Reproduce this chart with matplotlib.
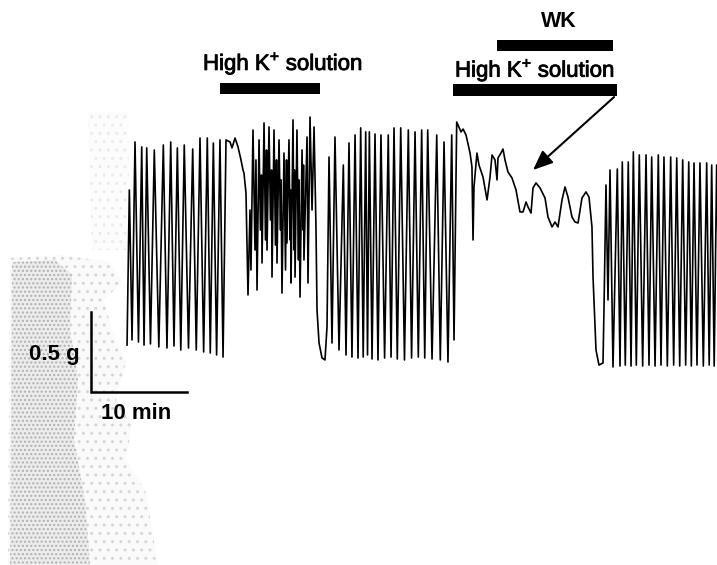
import numpy as np
import matplotlib
matplotlib.use("Agg")
import matplotlib.pyplot as plt
import matplotlib.patheffects as pe
from matplotlib.patches import Polygon

plt.rcParams["font.family"] = ["Liberation Sans", "DejaVu Sans"]
plt.rcParams["mathtext.fontset"] = "custom"
plt.rcParams["mathtext.rm"] = "Liberation Sans"

# ---- tension trace (time in min, force in g) ----
# spontaneous contractions before the first high K+ application
t_control = [-0.10, 0.14, 0.42, 0.73, 1.09, 1.43, 1.67, 1.95, 2.34, 2.74, 3.21, 3.68,
             4.06, 4.45, 4.79, 5.14, 5.50, 5.86, 6.30, 6.74, 7.11, 7.50, 7.88, 8.26,
             8.57, 8.89, 9.23, 9.58, 9.90, 10.21]
g_control = [0.156, 1.125, 0.188, 1.425, 0.175, 1.394, 0.156, 1.388, 0.163, 1.375, 0.144, 1.406,
             0.138, 1.425, 0.150, 1.388, 0.125, 1.406, 0.138, 1.381, 0.125, 1.450, 0.113, 1.450,
             0.106, 1.419, 0.094, 1.438, 0.081, 1.438]

# high K+ solution alone
t_highk = [10.63, 10.83, 11.15, 11.46, 11.77, 11.98, 12.08, 12.29,
           12.50, 12.71, 12.81, 13.02, 13.23, 13.33, 13.44, 13.65, 13.80, 13.91, 13.96, 14.17,
           14.32, 14.43, 14.48, 14.69, 14.84, 14.95, 15.00, 15.21, 15.36, 15.47, 15.52, 15.73,
           15.89, 15.94, 16.04, 16.25, 16.41, 16.51, 16.56, 16.77, 16.88, 16.93, 16.98, 17.19,
           17.29, 17.34, 17.40, 17.60, 17.76, 17.81, 17.92, 18.13, 18.23, 18.28, 18.33, 18.65,
           18.75, 18.96, 19.17, 19.38, 19.58, 19.69, 19.90, 20.21, 20.52, 20.73]
g_highk = [1.425, 1.388, 1.450, 1.394, 1.313, 1.250, 1.231, 1.106,
           0.469, 1.000, 0.625, 1.500, 0.750, 1.313, 0.500, 1.438, 0.875, 1.219, 0.669, 1.544,
           0.813, 1.375, 0.750, 1.519, 0.938, 1.250, 0.581, 1.500, 0.781, 1.313, 0.669, 1.438,
           0.875, 1.188, 0.481, 1.356, 0.625, 1.313, 0.794, 1.438, 0.813, 1.125, 0.544, 1.563,
           0.750, 1.250, 0.581, 1.500, 0.688, 1.188, 0.456, 1.375, 0.875, 1.281, 0.688, 1.456,
           0.544, 1.581, 1.000, 1.519, 0.894, 0.375, 0.169, 0.075, 0.063, 0.269]

# washout
t_wash = [20.94, 21.25, 21.56, 21.98, 22.43, 22.71, 23.02, 23.33, 23.65, 23.96, 24.24, 24.50,
          24.76, 24.95, 25.14, 25.42, 25.73, 26.04, 26.35, 26.73, 27.11, 27.40, 27.71, 28.05,
          28.41, 28.80, 29.20, 29.54, 29.90, 30.24, 30.59, 30.91, 31.22, 31.67, 32.16, 32.53,
          32.92, 33.33, 33.72, 33.96, 34.24]
g_wash = [1.331, 0.169, 1.456, 0.125, 1.281, 0.094, 1.419, 0.081, 1.469, 0.075, 1.513, 0.081,
          1.488, 0.094, 1.488, 0.069, 1.475, 0.063, 1.469, 0.075, 1.469, 0.081, 1.513, 0.069,
          1.513, 0.063, 1.500, 0.075, 1.488, 0.081, 1.500, 0.075, 1.500, 0.069, 1.469, 0.063,
          1.425, 0.050, 1.469, 0.188, 1.550]

# high K+ solution + WK
t_wk = [34.69, 34.90, 35.21, 35.63, 35.83, 35.94, 36.04, 36.35, 36.56, 36.98, 37.40, 37.71,
        37.92, 38.23, 38.44, 38.54, 38.85, 39.06, 39.27, 39.58, 40.00, 40.42, 40.83, 41.15,
        41.46, 41.67, 41.98, 42.19, 42.50, 42.92, 43.44, 43.75, 44.17, 44.48, 44.79, 45.21,
        45.52, 45.83, 46.25, 46.56, 46.88, 47.29, 47.71, 48.02, 48.33, 48.44, 48.75, 49.06,
        49.48, 49.58]
g_wk = [1.488, 1.506, 1.469, 1.356, 1.269, 0.813, 1.144, 1.356, 1.281, 1.206, 1.063, 1.206,
        1.344, 1.313, 1.188, 1.325, 1.356, 1.381, 1.313, 1.238, 1.200, 1.125, 0.988, 0.988,
        1.050, 1.019, 0.981, 1.138, 1.169, 1.138, 1.075, 0.956, 0.894, 0.925, 0.894, 1.063,
        1.144, 1.081, 0.956, 0.925, 0.919, 1.075, 1.113, 1.081, 0.894, 0.581, 0.125, 0.031,
        0.044, 0.375]

# recovery after washout
t_recovery = [49.79, 50.00, 50.21, 50.52, 50.97, 51.25, 51.49, 51.80, 52.11, 52.40, 52.64, 52.95,
              53.26, 53.61, 53.96, 54.27, 54.55, 54.90, 55.24, 55.52, 55.83, 56.18, 56.53, 56.84,
              57.16, 57.47, 57.78, 58.09, 58.41, 58.68, 58.96, 59.27, 59.58, 59.93, 60.28, 60.54,
              60.80, 61.06, 61.32, 61.67]
g_recovery = [1.156, 0.438, 1.250, 0.019, 1.256, 0.025, 1.300, 0.031, 1.300, 0.025, 1.363, 0.031,
              1.344, 0.025, 1.344, 0.031, 1.331, 0.025, 1.344, 0.031, 1.331, 0.025, 1.331, 0.031,
              1.325, 0.025, 1.313, 0.031, 1.300, 0.025, 1.294, 0.031, 1.294, 0.025, 1.294, 0.031,
              1.281, 0.025, 1.281, 0.025]

# treatment periods (min)
highk1_period = [9.58, 20.0]
highk2_period = [33.85, 50.94]
wk_period = [38.44, 50.52]

# scale bar
scale_t0, scale_g0 = -3.85, -0.1375
scale_min, scale_g = 10, 0.5

t = np.concatenate([t_control, t_highk, t_wash, t_wk, t_recovery])
g = np.concatenate([g_control, g_highk, g_wash, g_wk, g_recovery])

W, H = 717, 565
fig = plt.figure(figsize=(W / 100, H / 100), dpi=100)
ax = fig.add_axes([0, 0, 1, 1])
# 9.6 px per min, 160 px per g
ax.set_xlim(-128 / 9.6, (W - 128) / 9.6)
ax.set_ylim((370 - H) / 160, 370 / 160)
ax.axis("off")


# scanned-paper shading on the left edge (figure pixels)
def px(pts):
    return [(x / W, 1 - y / H) for x, y in pts]


outer = [(10, 258), (60, 255), (110, 262), (122, 282), (104, 300), (112, 330), (126, 362),
         (116, 400), (132, 425), (126, 460), (146, 492), (152, 530), (158, 565), (8, 565)]
inner = [(12, 262), (55, 260), (72, 275), (70, 330), (78, 380), (74, 440), (85, 500),
         (90, 565), (10, 565)]
strip = [(88, 112), (128, 112), (130, 250), (92, 250)]
for pts, fc, hc, hatch in [(outer, "#fafafa", "#d6d6d6", ".."),
                           (inner, "#ececec", "#b0b0b0", "...."),
                           (strip, "#fcfcfc", "#ebebeb", "..")]:
    ax.add_patch(Polygon(px(pts), closed=True, transform=fig.transFigure,
                         facecolor=fc, edgecolor=hc, hatch=hatch, lw=0, zorder=0))

ax.plot(t, g, color="black", lw=1.2, solid_joinstyle="round", zorder=3)

# treatment bars
ax.fill_between(highk1_period, 1.725, 1.794, color="black", lw=0)
ax.fill_between(highk2_period, 1.7125, 1.7875, color="black", lw=0)
ax.fill_between(wk_period, 1.994, 2.0625, color="black", lw=0)

heavy = [pe.withStroke(linewidth=0.6, foreground="black")]
ax.text(16.15, 1.875, "High K$^\\mathregular{+}$ solution", fontsize=16, ha="center",
        va="baseline", path_effects=heavy)
ax.text(42.4, 1.833, "High K$^\\mathregular{+}$ solution", fontsize=16, ha="center",
        va="baseline", path_effects=heavy)
ax.text(44.9, 2.144, "WK", fontsize=15.5, fontweight="bold", ha="center", va="baseline")

ax.annotate("", xy=(42.19, 1.25), xytext=(50.63, 1.706),
            arrowprops=dict(arrowstyle="-|>,head_length=1.2,head_width=0.5",
                            color="black", lw=1.5, shrinkA=0, shrinkB=0))

# scale bar
ax.plot([scale_t0, scale_t0, scale_t0 + scale_min],
        [scale_g0 + scale_g, scale_g0, scale_g0], color="black", lw=1.8,
        solid_joinstyle="miter", zorder=3)
ax.text(scale_t0 - 1.2, scale_g0 + 0.20, "0.5 g", fontsize=16, fontweight="bold",
        ha="right", va="baseline", zorder=4)
ax.text(scale_t0 + 1.0, scale_g0 - 0.17, "10 min", fontsize=16, fontweight="bold",
        ha="left", va="baseline", zorder=4)

fig.savefig("out.png", dpi=100)
